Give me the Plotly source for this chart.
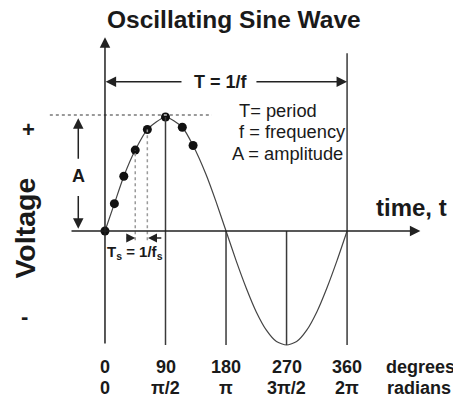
import plotly.graph_objects as go

# ---- data ----
wave_deg = [0, 14, 28, 45, 63, 90, 115, 131, 150, 165, 180, 195, 210, 225, 240, 255, 270, 285, 300, 315, 330, 345, 360]
wave_volt = [0, 0.24, 0.48, 0.71, 0.89, 1.0, 0.91, 0.75, 0.5, 0.26, 0, -0.26, -0.5, -0.71, -0.87, -0.97, -1.0, -0.97, -0.87, -0.71, -0.5, -0.26, 0]
sample_deg = [0, 14, 28, 45, 63, 90, 115, 131]
sample_volt = [0, 0.24, 0.48, 0.71, 0.89, 1.0, 0.91, 0.75]
tick_deg = [0, 90, 180, 270, 360]
deg_labels = ["0", "90", "180", "270", "360"]
rad_labels = ["0", "π/2", "π", "3π/2", "2π"]
line_tops = [None, 1.0, 0.0, 0.0, 1.56]

FONT = "Liberation Sans, Arial, sans-serif"
INK = "#1a1a1a"
LINE = "#3a3a3a"

fig = go.Figure()

# sine wave
fig.add_trace(go.Scatter(x=wave_deg, y=wave_volt, mode="lines",
                         line=dict(color="#444", width=1.2, shape="spline", smoothing=0.6),
                         hoverinfo="skip"))
# sample dots
fig.add_trace(go.Scatter(x=sample_deg, y=sample_volt, mode="markers",
                         marker=dict(color="#111", size=9), hoverinfo="skip"))

shapes = []
# vertical reference lines
for d, top in zip(tick_deg, line_tops):
    if top is None:
        continue
    shapes.append(dict(type="line", xref="x", yref="y", x0=d, x1=d, y0=-1.0, y1=top,
                       line=dict(color=LINE, width=1.5)))
# dotted peak line
shapes.append(dict(type="line", xref="x", yref="y", x0=-82, x1=159, y0=1.018, y1=1.018,
                   line=dict(color="#9a9a9a", width=2, dash="dot")))
# dotted sample-interval lines
for i in (3, 4):
    shapes.append(dict(type="line", xref="x", yref="y", x0=sample_deg[i], x1=sample_deg[i],
                       y0=-0.08, y1=sample_volt[i],
                       line=dict(color="#9a9a9a", width=1.5, dash="dot")))
fig.update_layout(shapes=shapes)

def arrow(x_tail, y_tail, x_tip, y_tip, w=1.5, size=1.4):
    fig.add_annotation(x=x_tip, y=y_tip, ax=x_tail, ay=y_tail, xref="x", yref="y",
                       axref="x", ayref="y", text="", showarrow=True,
                       arrowhead=2, arrowsize=size, arrowwidth=w, arrowcolor="#222")

# axes
arrow(0, -1.0, 0, 1.70)
arrow(-52, 0, 469, 0)
# period arrows
arrow(116, 1.31, 1, 1.31)
arrow(223, 1.31, 360, 1.31)
# amplitude arrows
arrow(-39.7, 0.62, -39.7, 0.99)
arrow(-39.7, 0.32, -39.7, 0.02)
# sample period arrows
arrow(30, -0.061, 45, -0.061, w=1.5, size=1.2)
arrow(86, -0.061, 64, -0.061, w=1.5, size=1.2)

def text(x, y, s, size, bold=False, xanchor="center", angle=0):
    fig.add_annotation(x=x, y=y, xref="x", yref="y", text=f"<b>{s}</b>" if bold else s,
                       showarrow=False, xanchor=xanchor, yanchor="middle", textangle=angle,
                       font=dict(family=FONT, size=size, color=INK))

text(192, 1.855, "Oscillating Sine Wave", 24.5, bold=True)
text(172.5, 1.31, "T = 1/f", 18, bold=True)
text(196, 1.06, "T= period", 18.3, xanchor="left")
text(196, 0.87, "f = frequency", 18.3, xanchor="left")
text(186, 0.68, "A = amplitude", 18.3, xanchor="left")
text(456.5, 0.21, "time, t", 24, bold=True)
text(-39.7, 0.48, "A", 18, bold=True)
text(45, -0.19, "T<sub>s</sub> = 1/f<sub>s</sub>", 15, bold=True)
text(-114, 0.89, "+", 22, bold=True)
text(-119, -0.75, "-", 22, bold=True)
text(-119, 0.03, "Voltage", 28.5, bold=True, angle=-90)

for d, dl, rl in zip(tick_deg, deg_labels, rad_labels):
    text(d, -1.193, dl, 18, bold=True)
    text(d, -1.377, rl, 18, bold=True)
text(469, -1.193, "degrees", 18, bold=True)
text(467, -1.377, "radians", 18, bold=True)

# page has an 8px body margin: figure spans reference pixels 8..461 x 8..401
fig.update_layout(
    width=453, height=393,
    margin=dict(l=0, r=0, t=0, b=0),
    paper_bgcolor="white", plot_bgcolor="white",
    showlegend=False,
    xaxis=dict(range=[-144.2, 529.4], visible=False, fixedrange=True),
    yaxis=dict(range=[-1.491, 1.956], visible=False, fixedrange=True),
)

fig.write_html("out.html")
